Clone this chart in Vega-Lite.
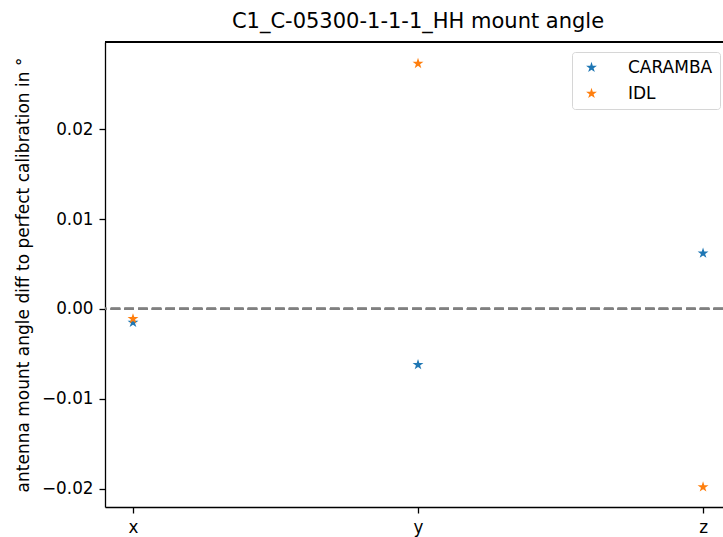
{
  "$schema": "https://vega.github.io/schema/vega-lite/v6.json",
  "width": 618,
  "height": 465,
  "autosize": {"type": "none"},
  "padding": {"left": 105, "top": 42, "right": 0, "bottom": 30},
  "background": "white",
  "title": {"text": "C1_C-05300-1-1-1_HH mount angle", "anchor": "middle", "frame": "group", "fontSize": 21, "fontWeight": "normal", "font": "DejaVu Sans", "color": "black", "offset": 9, "dx": 4},
  "config": {
    "view": {"stroke": null},
    "font": "DejaVu Sans",
    "axis": {"grid": false, "domainColor": "black", "domainWidth": 1.3, "tickColor": "black", "tickWidth": 1.3, "tickSize": 6, "labelPadding": 6, "labelFontSize": 16.8, "labelFont": "DejaVu Sans", "titleFont": "DejaVu Sans", "labelColor": "black", "titleFontSize": 17, "titleFontWeight": "normal", "titleColor": "black"},
    "legend": {"labelFont": "DejaVu Sans"}
  },
  "data": {"values": [
    {"axis": 0, "series": "CARAMBA", "value": -0.0015},
    {"axis": 1, "series": "CARAMBA", "value": -0.0062},
    {"axis": 2, "series": "CARAMBA", "value": 0.0062},
    {"axis": 0, "series": "IDL", "value": -0.0011},
    {"axis": 1, "series": "IDL", "value": 0.0273},
    {"axis": 2, "series": "IDL", "value": -0.0198}
  ]},
  "layer": [
    {
      "mark": {"type": "rule", "color": "#808080", "strokeWidth": 2.2, "strokeDash": [9.5, 4.2]},
      "encoding": {
        "y": {"datum": 0, "type": "quantitative"}
      }
    },
    {
      "mark": {"type": "rule", "color": "black", "strokeWidth": 1.3},
      "encoding": {
        "y": {"datum": 0.0297, "type": "quantitative"}
      }
    },
    {
      "mark": {"type": "point", "shape": "M0,-1L0.2245,-0.309L0.9511,-0.309L0.3633,0.118L0.5878,0.809L0,0.382L-0.5878,0.809L-0.3633,0.118L-0.9511,-0.309L-0.2245,-0.309Z", "filled": true, "opacity": 1, "size": 130},
      "encoding": {
        "x": {"field": "axis", "type": "quantitative", "scale": {"domain": [-0.0982, 2.07], "nice": false, "zero": false}, "axis": {"values": [0, 1, 2], "labelExpr": "['x','y','z'][datum.value]", "title": null}},
        "y": {"field": "value", "type": "quantitative", "scale": {"domain": [-0.02203, 0.0297], "nice": false, "zero": false}, "axis": {"values": [-0.02, -0.01, 0, 0.01, 0.02], "format": ".2f", "labelExpr": "replace(replace(datum.label, '-', '\u2212'), '\u2010', '\u2212')", "title": "antenna mount angle diff to perfect calibration in °", "titlePadding": 9}},
        "color": {"field": "series", "type": "nominal", "scale": {"domain": ["CARAMBA", "IDL"], "range": ["#1f77b4", "#ff7f0e"]}, "legend": {"title": null, "orient": "none", "legendX": 467, "legendY": 10, "fillColor": "white", "strokeColor": "#d6d6d6", "cornerRadius": 3, "padding": 7, "rowPadding": 8, "symbolType": "M0,-1L0.2245,-0.309L0.9511,-0.309L0.3633,0.118L0.5878,0.809L0,0.382L-0.5878,0.809L-0.3633,0.118L-0.9511,-0.309L-0.2245,-0.309Z", "symbolSize": 130, "symbolOffset": 4, "labelOffset": 28, "labelFontSize": 17, "labelColor": "black", "symbolStrokeWidth": 0}}
      }
    }
  ]
}
